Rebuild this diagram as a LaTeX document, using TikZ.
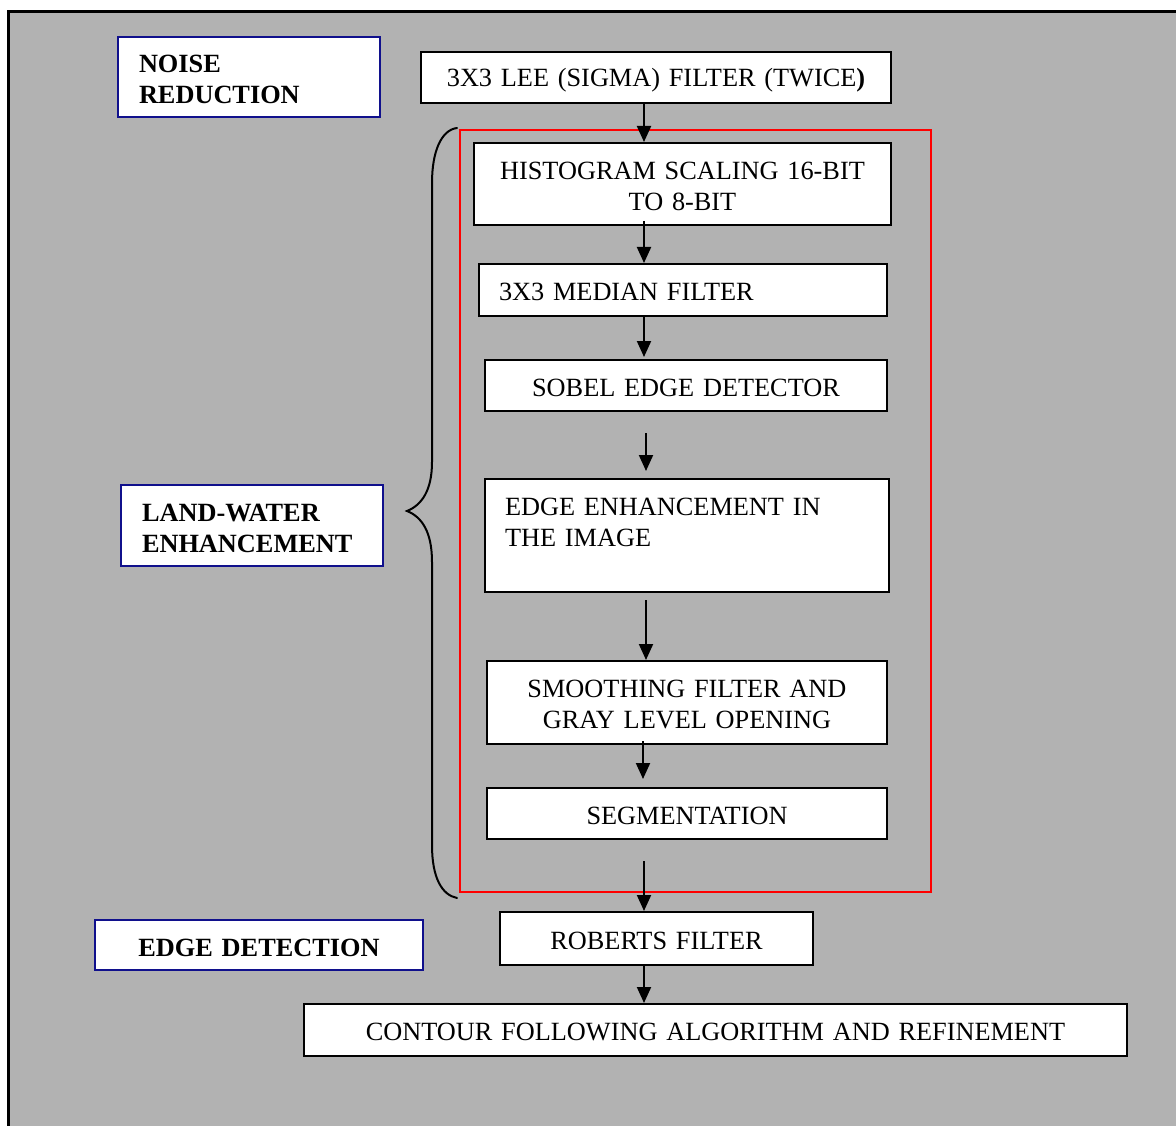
\documentclass[tikz,border=0pt]{standalone}
\usepackage{fontspec}
\setmainfont{Liberation Serif}
\usetikzlibrary{arrows.meta}
\definecolor{panel}{RGB}{178,178,178}
\definecolor{navy}{RGB}{16,16,140}
\definecolor{grpred}{RGB}{255,0,0}
\begin{document}
\begin{tikzpicture}[x=1pt,y=-1pt,
  every node/.style={font=\fontsize{26.3}{31}\selectfont, inner sep=0pt},
  stage/.style={draw=black, line width=2pt, fill=white},
  phase/.style={draw=navy, line width=2pt, fill=white},
  txt/.style={align=center},
  ltxt/.style={align=left},
  btxt/.style={align=left, font=\fontsize{26.3}{31}\selectfont\bfseries},
  group/.style={draw=grpred, line width=2pt},
  flow/.style={line width=2pt, -{Triangle[length=16pt,width=14pt]}},
  brace/.style={line width=2pt, line cap=round},
]
\useasboundingbox (0,0) rectangle (1176,1126);
% page and framed panel
\fill[white] (0,0) rectangle (1176,1126);
\fill[panel] (8,12) rectangle (1176,1126);
\draw[line width=3pt] (8,1126) -- (8,12) -- (1176,12);

% red frame around the enhancement stages
\node[group, minimum width=471pt, minimum height=762pt] (grp) at (695.5,511) {};

% phase labels
\node[phase, minimum width=262pt, minimum height=80pt] (noise) at (249,77) {};
\node[btxt, text width=220pt] (noise-t) at ([yshift=-2.5pt]noise.center) {NOISE\\REDUCTION};
\node[phase, minimum width=262pt, minimum height=81pt] (land) at (252,525.5) {};
\node[btxt, text width=220pt] (land-t) at ([yshift=-2.5pt]land.center) {LAND-WATER\\ENHANCEMENT};
\node[phase, minimum width=328pt, minimum height=50pt] (edgedet) at (259,945) {};
\node[btxt, align=center, text width=300pt] (edgedet-t) at ([yshift=-2.5pt]edgedet.center) {EDGE DETECTION};

% processing stages
\node[stage, minimum width=470pt, minimum height=51pt] (lee) at (656,77.5) {};
\node[txt, text width=450pt] (lee-t) at ([yshift=-2.5pt]lee.center) {3X3 LEE (SIGMA) FILTER (TWICE\textbf{)}};
\node[stage, minimum width=417pt, minimum height=82pt] (hist) at (682.5,184) {};
\node[txt, text width=400pt] (hist-t) at ([yshift=-2pt]hist.center) {HISTOGRAM SCALING 16-BIT\\TO 8-BIT};
\node[stage, minimum width=408pt, minimum height=52pt] (median) at (683,290) {};
\node[ltxt, text width=368pt] (median-t) at ([yshift=-1.5pt]median.center) {3X3 MEDIAN FILTER};
\node[stage, minimum width=402pt, minimum height=51pt] (sobel) at (686,385.5) {};
\node[txt, text width=380pt] (sobel-t) at ([yshift=-2pt]sobel.center) {SOBEL EDGE DETECTOR};
\node[stage, minimum width=404pt, minimum height=113pt] (enh) at (687,535.5) {};
\node[ltxt, text width=364pt] (enh-t) at ([yshift=13.5pt]enh.center) {EDGE ENHANCEMENT IN\\THE IMAGE};
\node[stage, minimum width=400pt, minimum height=83pt] (smooth) at (687,702.5) {};
\node[txt, text width=380pt] (smooth-t) at ([yshift=-1.5pt]smooth.center) {SMOOTHING FILTER AND\\GRAY LEVEL OPENING};
\node[stage, minimum width=400pt, minimum height=51pt] (seg) at (687,813.5) {};
\node[txt, text width=380pt] (seg-t) at ([yshift=-2pt]seg.center) {SEGMENTATION};
\node[stage, minimum width=313pt, minimum height=53pt] (roberts) at (656.5,938.5) {};
\node[txt, text width=300pt] (roberts-t) at ([yshift=-2pt]roberts.center) {ROBERTS FILTER};
\node[stage, minimum width=823pt, minimum height=52pt] (contour) at (715.5,1030) {};
\node[txt, text width=800pt] (contour-t) at ([yshift=-1.5pt]contour.center) {CONTOUR FOLLOWING ALGORITHM AND REFINEMENT};

% brace grouping the enhancement stages
\draw[brace] (457,128) .. controls (441,130) and (432,152) .. (432,183)
  -- (432,462) .. controls (432,490) and (422,505) .. (407,511)
  .. controls (422,517) and (432,532) .. (432,562)
  -- (432,845) .. controls (432,878) and (442,895) .. (457,898);

% flow arrows
\coordinate (ax1) at (644,0);
\coordinate (ax2) at (646,0);
\coordinate (ax3) at (643,0);
\draw[flow] (lee.south -| ax1) -- (hist.north -| ax1);
\draw[flow, shorten <=-5pt] (hist.south -| ax1) -- (median.north -| ax1);
\draw[flow, shorten >=2pt] (median.south -| ax1) -- (sobel.north -| ax1);
\draw[flow, shorten <=21pt, shorten >=7pt] (sobel.south -| ax2) -- (enh.north -| ax2);
\draw[flow, shorten <=7pt] (enh.south -| ax2) -- (smooth.north -| ax2);
\draw[flow, shorten <=-4pt, shorten >=8pt] (smooth.south -| ax3) -- (seg.north -| ax3);
\draw[flow, shorten <=21pt] (seg.south -| ax1) -- (roberts.north -| ax1);
\draw[flow] (roberts.south -| ax1) -- (contour.north -| ax1);
\end{tikzpicture}
\end{document}
